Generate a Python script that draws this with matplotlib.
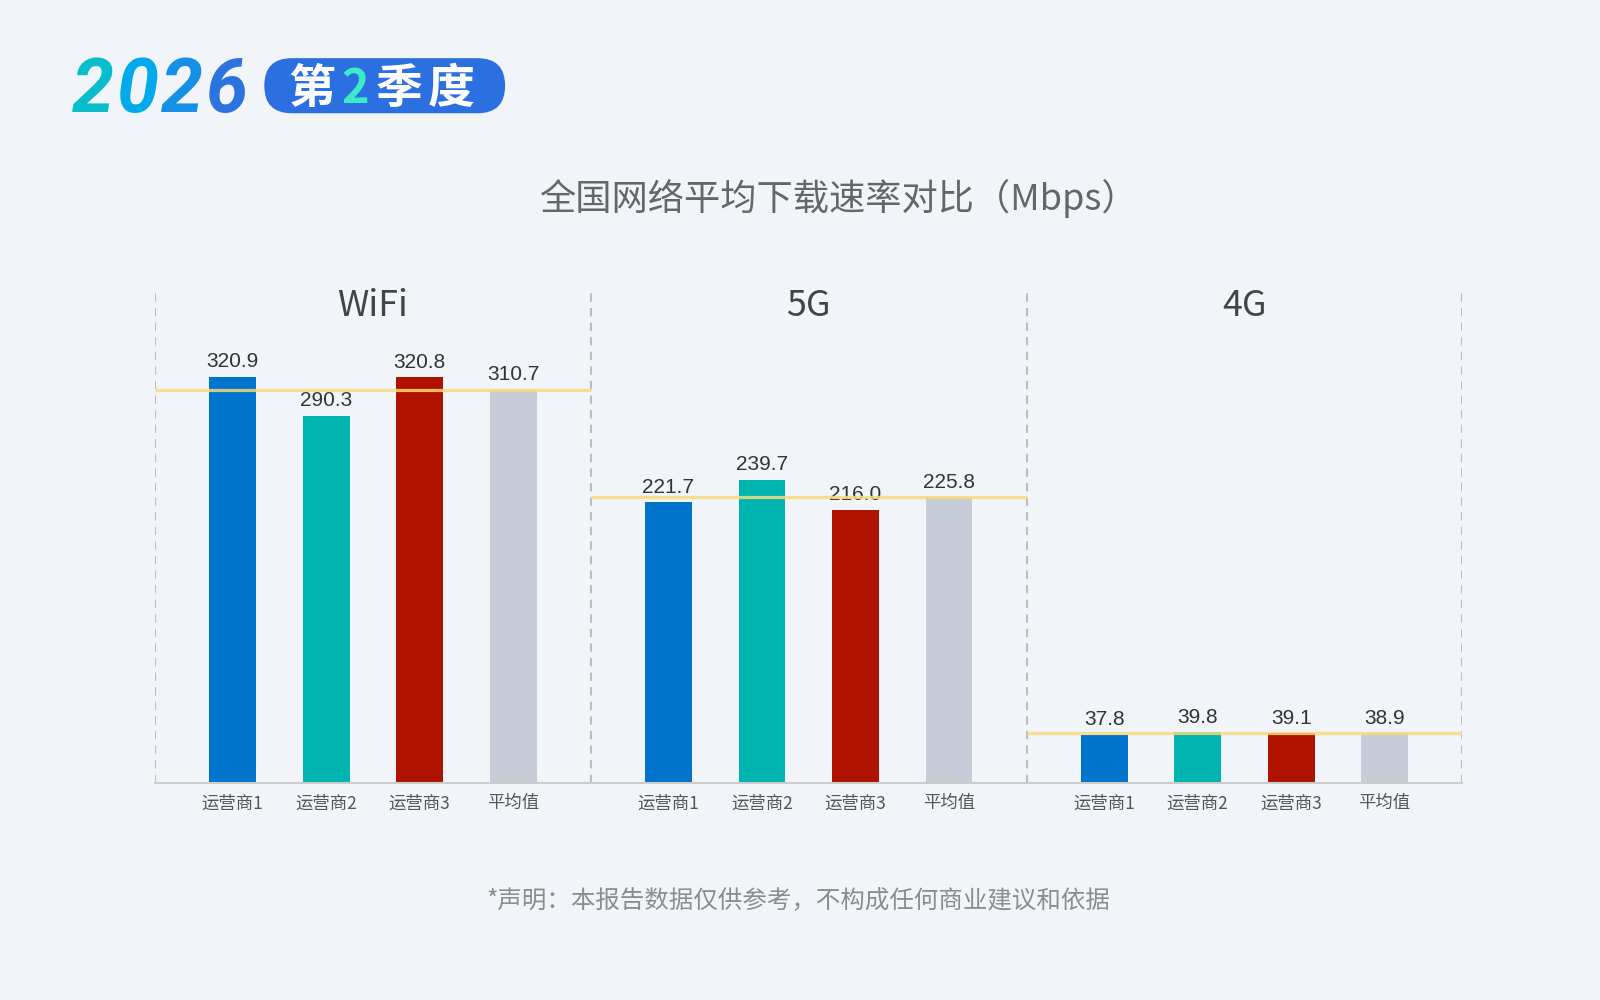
import numpy as np
import matplotlib
matplotlib.use('Agg')
import matplotlib.pyplot as plt
from matplotlib.patches import FancyBboxPatch

plt.rcParams['font.family'] = ['Noto Sans CJK SC', 'DejaVu Sans']

# data
groups = ['WiFi', '5G', '4G']
operators = ['运营商1', '运营商2', '运营商3', '平均值']
wifi_speed = [320.9, 290.3, 320.8, 310.7]
g5_speed = [221.7, 239.7, 216.0, 225.8]
g4_speed = [37.8, 39.8, 39.1, 38.9]
bar_colors = ['#0174CC', '#00B5AF', '#B01200', '#C6CDD8']

title = '全国网络平均下载速率对比（Mbps）'
footnote = '*声明：本报告数据仅供参考，不构成任何商业建议和依据'
year_digits = ['2', '0', '2', '6']
year_colors = ['#08BECB', '#02AAEC', '#1690E7', '#2C74DD']

bg = '#F1F5F9'
W = 4.66      # width of one panel in bar units
off = 0.83    # first bar offset inside panel

fig = plt.figure(figsize=(16, 10), dpi=100, facecolor=bg)

# overlay in reference pixel coordinates
ov = fig.add_axes([0, 0, 1, 1])
ov.set_xlim(0, 1568)
ov.set_ylim(980, 0)
ov.axis('off')

def pt(px):
    return px * (1600 / 1568) / (100 / 72)

# year, per digit colour to mimic the gradient
for ch, cx, c in zip(year_digits, [91, 134, 178, 222], year_colors):
    ov.text(cx, 110, ch, ha='center', va='baseline', fontsize=pt(74),
            family='Roboto', weight='bold', style='italic', color=c)

pill = FancyBboxPatch((259 + 27, 57 + 27), 236 - 54, 0.001,
                      boxstyle='round,pad=27', fc='#2C6FE0', ec='none')
ov.add_patch(pill)
for ch, cx, c in zip(['第', '2', '季', '度'], [306, 348, 391, 442],
                     ['white', '#3EEBC8', 'white', 'white']):
    ov.text(cx, 101, ch, ha='center', va='baseline', fontsize=pt(46),
            weight='bold', color=c)

ov.text(822, 206, title, ha='center', va='baseline', fontsize=pt(35.5),
        color='#666666')
ov.text(782, 890, footnote, ha='center', va='baseline', fontsize=pt(24),
        color='#8C8C8C', style='italic')

# main chart
ax = fig.add_axes([152 / 1568, 1 - 767 / 980, 1281 / 1568, 483 / 980])
ax.set_facecolor('none')
ax.set_xlim(0, 3 * W)
ax.set_ylim(0, 390)

series = [wifi_speed, g5_speed, g4_speed]
ticks, ticklabels = [], []
for k, (name, vals) in enumerate(zip(groups, series)):
    xs = k * W + off + np.arange(len(vals))
    ax.bar(xs, vals, width=0.5, color=bar_colors, zorder=2)
    for x, v in zip(xs, vals):
        ax.annotate(f'{v:.1f}', (x, v), xytext=(0, 7), textcoords='offset points',
                    ha='center', va='baseline', fontsize=15,
                    family='Liberation Sans', color='#333333')
    ax.plot([k * W, (k + 1) * W], [vals[3], vals[3]], color='#F9D97A',
            lw=2.3, alpha=0.85, zorder=3, solid_capstyle='butt')
    ax.text(k * W + W / 2, 0.946, name, transform=ax.get_xaxis_transform(),
            ha='center', va='baseline', fontsize=pt(35), color='#444444')
    ticks += list(xs)
    ticklabels += operators

for k in range(4):
    ax.axvline(k * W, color='#BDBDBD', lw=1.5, ls=(0, (4, 3)), zorder=1)

for s in ['top', 'right', 'left']:
    ax.spines[s].set_visible(False)
ax.spines['bottom'].set_color('#CCCCCC')
ax.spines['bottom'].set_linewidth(1.5)
ax.set_yticks([])
ax.set_xticks(ticks, ticklabels)
ax.tick_params(axis='x', length=0, pad=8.5, labelsize=12.5, labelcolor='#555555')

fig.savefig('out.png', facecolor=bg)
